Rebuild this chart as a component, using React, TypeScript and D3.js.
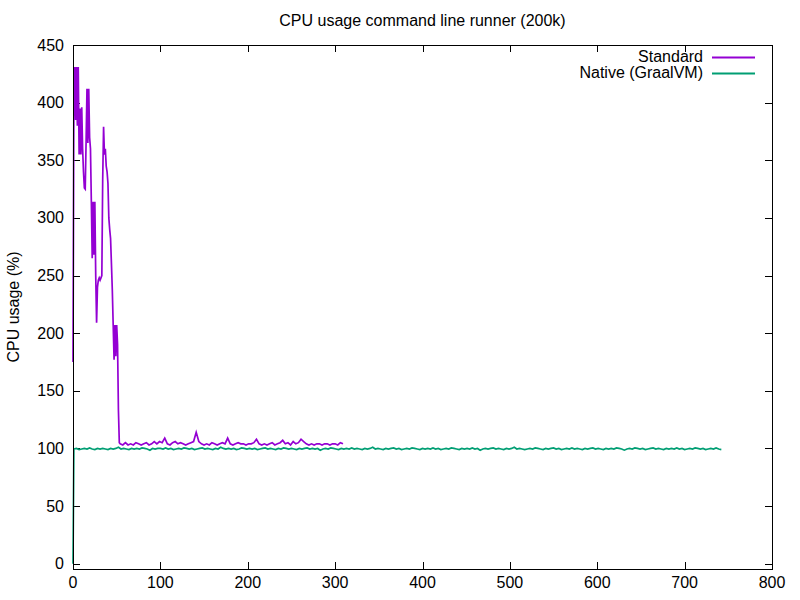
import React from "react";
import * as d3 from "d3";

const title = "CPU usage command line runner (200k)";
const yLabel = "CPU usage (%)";
const seriesNames = ["Standard", "Native (GraalVM)"];
const seriesColors = ["#9400D3", "#009E73"];
const xTicks = [0, 100, 200, 300, 400, 500, 600, 700, 800];
const yTicks = [0, 50, 100, 150, 200, 250, 300, 350, 400, 450];

// Standard: first 54 s at 1 s resolution
const standardEarly = [
  175, 400, 431, 385, 431, 380, 431, 355, 395, 355,
  396, 360, 340, 326, 325, 367, 412, 365, 412, 370,
  360, 314, 265, 314, 268, 314, 250, 209, 240, 246,
  248, 246, 248, 250, 334, 379, 355, 360, 345, 340,
  330, 300, 290, 282, 260, 237, 207, 177, 207, 180,
  207, 190, 133, 105,
];
// Standard: from t=54 s, every 3 s
const standardLate = [
  104, 103, 105, 103, 104, 103, 105, 104, 103, 104,
  105, 103, 104, 106, 104, 106, 105, 109, 104, 103,
  105, 106, 104, 105, 104, 103, 104, 105, 106, 114,
  106, 104, 103, 104, 103, 105, 104, 103, 104, 105,
  104, 109, 104, 103, 104, 105, 104, 104, 103, 104,
  104, 105, 108, 104, 103, 104, 103, 104, 105, 103,
  104, 105, 107, 104, 105, 103, 106, 104, 105, 108,
  106, 104, 103, 104, 103, 104, 104, 103, 104, 104,
  103, 104, 104, 103, 105, 104,
];
// Native: t=0 then from t=1 s every 3 s
const nativeStart = 0;
const nativeValues = [
  99.5, 100, 99, 99.5, 100, 99.5, 100.5, 99.5, 99, 100, 99.5, 100, 99.5, 99, 100, 99.5, 100, 101, 99.5, 100,
  99.5, 99, 100, 99.5, 100, 99.5, 100.5, 100, 99.5, 98.5, 100, 99.5, 100, 100, 99.5, 100.5, 99.5, 100, 99, 99.5,
  100, 99.5, 100.5, 100, 99.5, 100, 99, 99.5, 100, 100.5, 99.5, 100, 99.5, 99, 100, 99.5, 101, 100, 99.5, 100,
  99.5, 100, 99, 99.5, 100.5, 100, 99.5, 100, 99.5, 100, 99, 99.5, 100, 100.5, 99.5, 100, 99.5, 99, 100, 99.5,
  100.5, 100, 99.5, 100, 99.5, 99, 100, 99.5, 100, 100.5, 99.5, 100, 99.5, 100, 98.5, 99.5, 100, 99.5, 100.5, 100,
  99.5, 99, 100, 99.5, 100, 99.5, 100.5, 99.5, 100, 99.5, 99, 100, 99.5, 100, 101, 99.5, 100, 99.5, 99, 100,
  99.5, 100, 100.5, 99.5, 100, 99, 99.5, 100, 99.5, 100.5, 100, 99.5, 99, 100, 99.5, 100, 99.5, 100.5, 99.5, 100,
  99, 99.5, 100, 99.5, 100.5, 100, 99.5, 99, 100, 99.5, 100, 99.5, 100.5, 99.5, 100, 98.5, 99.5, 100, 99.5, 100,
  100.5, 99.5, 100, 99.5, 99, 100, 99.5, 100, 101, 99.5, 100, 99.5, 99, 99.5, 100, 99.5, 100.5, 100, 99.5, 99,
  100, 99.5, 100, 100.5, 99.5, 100, 99, 99.5, 100, 99.5, 100.5, 99.5, 100, 99.5, 99, 100, 99.5, 100, 100.5, 99.5,
  100, 99.5, 99, 100, 99.5, 100, 99.5, 100.5, 100, 99.5, 98.5, 99.5, 100, 99.5, 100.5, 100, 99.5, 100, 99, 99.5,
  100, 100.5, 99.5, 100, 99.5, 99, 100, 99.5, 100, 99.5, 100.5, 99.5, 100, 99, 99.5, 100, 99.5, 100.5, 100, 99.5,
  100, 99, 99.5, 100, 99.5, 100.5, 99.5, 99,
];

type Pt = [number, number];

const standardData: Pt[] = [
  ...standardEarly.map((v, i) => [i, v] as Pt),
  ...standardLate.map((v, i) => [54 + 3 * i, v] as Pt),
];
const nativeData: Pt[] = [
  [0, nativeStart] as Pt,
  ...nativeValues.map((v, i) => [1 + 3 * i, v] as Pt),
];

const W = 800;
const H = 600;
const left = 73;
const right = 772;
const top = 45;
const bottom = 569;
const font = "'Liberation Sans', Arial, sans-serif";

export default function App() {
  const x = d3.scaleLinear().domain([0, 800]).range([left, right]);
  const y = d3.scaleLinear().domain([-4.6, 450]).range([bottom, top]);
  const line = d3
    .line<Pt>()
    .x((d) => x(d[0]))
    .y((d) => y(d[1]));
  const tl = 7;
  return (
    <svg
      width={W}
      height={H}
      style={{ position: "absolute", left: 0, top: 0, background: "#fff" }}
      fontFamily={font}
    >
      <rect x={0} y={0} width={W} height={H} fill="#fff" />
      <text x={(left + right) / 2} y={26} textAnchor="middle" fontSize={16} fill="#000">
        {title}
      </text>
      <text
        transform={`translate(19,${(top + bottom) / 2}) rotate(-90)`}
        textAnchor="middle"
        fontSize={16}
        fill="#000"
      >
        {yLabel}
      </text>
      {yTicks.map((t) => (
        <g key={"y" + t}>
          <line x1={left} x2={left + tl} y1={Math.round(y(t)) + 0.5} y2={Math.round(y(t)) + 0.5} stroke="#000" />
          <line x1={right} x2={right - tl} y1={Math.round(y(t)) + 0.5} y2={Math.round(y(t)) + 0.5} stroke="#000" />
          <text x={64} y={y(t) + 5.5} textAnchor="end" fontSize={16} fill="#000">
            {t}
          </text>
        </g>
      ))}
      {xTicks.map((t) => (
        <g key={"x" + t}>
          <line x1={Math.round(x(t)) + 0.5} x2={Math.round(x(t)) + 0.5} y1={bottom} y2={bottom - tl} stroke="#000" />
          <line x1={Math.round(x(t)) + 0.5} x2={Math.round(x(t)) + 0.5} y1={top} y2={top + tl} stroke="#000" />
          <text x={x(t)} y={588} textAnchor="middle" fontSize={16} fill="#000">
            {t}
          </text>
        </g>
      ))}
      <path d={line(standardData) || ""} fill="none" stroke={seriesColors[0]} strokeWidth={1.7} strokeLinejoin="miter" />
      <path d={line(nativeData) || ""} fill="none" stroke={seriesColors[1]} strokeWidth={1.7} strokeLinejoin="miter" />
      <rect x={left + 0.5} y={top + 0.5} width={right - left} height={bottom - top} fill="none" stroke="#000" />
      {seriesNames.map((n, i) => (
        <g key={n}>
          <text x={703} y={62 + i * 16} textAnchor="end" fontSize={16} fill="#000">
            {n}
          </text>
          <line x1={712} x2={755} y1={57.5 + i * 16} y2={57.5 + i * 16} stroke={seriesColors[i]} strokeWidth={2} />
        </g>
      ))}
    </svg>
  );
}
